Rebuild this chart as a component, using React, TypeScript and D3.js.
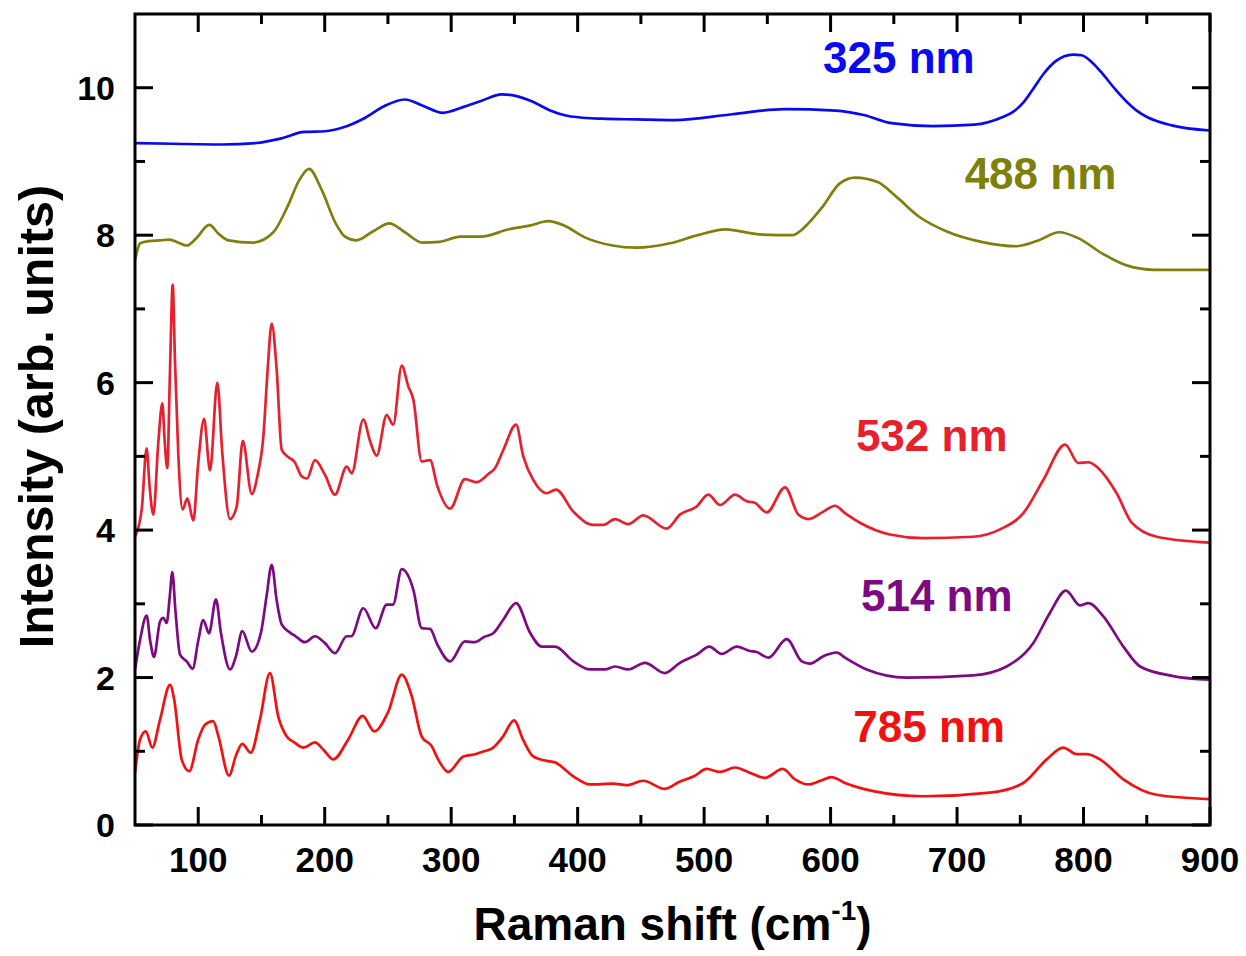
import React from "react";
import * as d3 from "d3";

// Raman spectra of the same sample under five excitation wavelengths,
// stacked with vertical offsets. Each entry: [Raman shift (cm^-1), intensity].
const spectrum325: [number, number][] = [
  [50, 9.25], [80, 9.24], [118.4, 9.23], [145.8, 9.25], [164.9, 9.31], [184, 9.4], [200.5, 9.41],
  [214.2, 9.46], [230.6, 9.58], [247, 9.75], [263.4, 9.84], [277.1, 9.76], [293.5, 9.66],
  [309.9, 9.74], [323.6, 9.82], [340, 9.91], [351, 9.89], [364.6, 9.81], [378.3, 9.69],
  [394.7, 9.61], [419.4, 9.58], [446.7, 9.57], [476.8, 9.56], [522.2, 9.64], [563.3, 9.71],
  [604.3, 9.69], [626.2, 9.63], [648.1, 9.52], [681, 9.48], [713.8, 9.5], [735.7, 9.6],
  [744, 9.67], [752, 9.79], [760, 9.98], [768.5, 10.19], [778, 10.36], [791.7, 10.45],
  [798.6, 10.44], [807, 10.34], [815, 10.19], [825, 9.98], [834.1, 9.81], [842, 9.69],
  [850.6, 9.6], [869.7, 9.49], [900, 9.42],
];

const spectrum488: [number, number][] = [
  [50, 7.66], [54.1, 7.89], [61, 7.92], [70, 7.93], [77.4, 7.94], [84, 7.9], [91, 7.86],
  [98, 7.95], [108.8, 8.14], [116, 8.02], [123.9, 7.93], [143, 7.9], [159.4, 8.04],
  [170.4, 8.38], [180, 8.75], [187.6, 8.9], [197.7, 8.61], [208.7, 8.16], [216, 7.98],
  [225.1, 7.93], [238, 8.05], [251.1, 8.16], [263.4, 8.04], [277.1, 7.9], [290.8, 7.91],
  [307.2, 7.98], [323.6, 7.98], [345.5, 8.08], [361.9, 8.13], [376.9, 8.19], [389.3, 8.13],
  [405.7, 7.97], [427.6, 7.86], [446.7, 7.83], [473, 7.89], [494.9, 8.0], [516.8, 8.08],
  [544.1, 8.01], [570.1, 8.0], [577, 8.07], [582.4, 8.16], [593.4, 8.38], [607.1, 8.7],
  [619.4, 8.78], [637.2, 8.72], [650.8, 8.54], [670, 8.25], [691.9, 8.05], [719.2, 7.91],
  [746.6, 7.85], [763, 7.92], [780.8, 8.04], [795.8, 7.96], [815, 7.75], [834.1, 7.59],
  [856, 7.53], [900, 7.53],
];

const spectrum532: [number, number][] = [
  [50, 3.91], [55.3, 4.28], [59.2, 5.11], [61.5, 4.6], [64.5, 4.21], [68.4, 5.18], [71.6, 5.72],
  [73.5, 5.2], [75.5, 4.84], [77.7, 6.18], [79.8, 7.33], [81.6, 6.3], [84.3, 5.0], [87.7, 4.28],
  [91.4, 4.43], [96.1, 4.13], [100, 4.91], [104.6, 5.51], [109.3, 4.81], [115.1, 6.0],
  [119, 5.05], [125.1, 4.15], [130.4, 4.32], [135.2, 5.21], [142.3, 4.49], [147, 4.75],
  [151.5, 5.27], [154.9, 6.18], [158.1, 6.8], [162, 6.18], [166, 5.09], [171.2, 4.99],
  [176, 4.93], [181.8, 4.73], [186, 4.7], [192.3, 4.95], [200.2, 4.75], [208.1, 4.48],
  [217.4, 4.86], [221.3, 4.77], [230.5, 5.5], [236, 5.2], [241.1, 5.01], [249, 5.56],
  [254.2, 5.43], [260.9, 6.23], [266.1, 5.95], [270.1, 5.77], [276.7, 4.93], [283.3, 4.95],
  [289, 4.6], [299.1, 4.29], [310.9, 4.69], [320.2, 4.65], [329.4, 4.76], [334.6, 4.84],
  [341.3, 5.09], [351.3, 5.43], [357, 5.0], [364.9, 4.68], [375.5, 4.5], [382.9, 4.55],
  [396.6, 4.25], [412.4, 4.07], [420.3, 4.07], [429.5, 4.15], [440, 4.08], [451.9, 4.2],
  [470.4, 4.02], [480.9, 4.21], [494.1, 4.32], [503.3, 4.48], [512.6, 4.34], [524.4, 4.48],
  [533.7, 4.39], [540, 4.37], [549.5, 4.24], [564, 4.58], [574.5, 4.21], [582.4, 4.15],
  [594.3, 4.25], [603.5, 4.33], [611.4, 4.23], [623.2, 4.1], [647, 3.94], [673.3, 3.89],
  [712.8, 3.91], [734, 4.01], [752.4, 4.23], [768.2, 4.68], [785.4, 5.16], [795.9, 4.91],
  [803.8, 4.92], [811.7, 4.84], [826.2, 4.5], [838.1, 4.1], [857.8, 3.91], [900, 3.83],
];

const spectrum514: [number, number][] = [
  [50, 2.11], [54, 2.51], [59.2, 2.84], [62, 2.5], [65, 2.28], [69.8, 2.76], [72.4, 2.81],
  [75, 2.74], [77.5, 3.1], [79.5, 3.43], [82, 2.9], [85.6, 2.31], [90.9, 2.22], [95.6, 2.12],
  [100, 2.5], [104, 2.78], [108.5, 2.6], [114, 3.06], [118, 2.6], [125.1, 2.11], [130, 2.3],
  [134.8, 2.63], [142.3, 2.35], [149.6, 2.61], [154, 3.1], [158.1, 3.53], [162, 3.05],
  [166, 2.72], [172.6, 2.61], [177, 2.56], [184.4, 2.48], [192.3, 2.56], [200, 2.47],
  [208.1, 2.33], [217.4, 2.56], [221, 2.56], [230.5, 2.94], [240.3, 2.67], [249, 2.99],
  [254, 2.99], [260.9, 3.47], [270.1, 3.19], [276.7, 2.67], [283.3, 2.66], [289, 2.45],
  [299.1, 2.22], [310.9, 2.49], [318.8, 2.48], [326, 2.55], [333.3, 2.6], [341, 2.78],
  [351.3, 3.01], [362.3, 2.61], [371.6, 2.42], [382.1, 2.42], [396.6, 2.22], [409.8, 2.11],
  [421.6, 2.11], [429.5, 2.15], [440, 2.11], [453.2, 2.2], [469, 2.06], [480.9, 2.2],
  [494.1, 2.31], [504.1, 2.42], [513.9, 2.32], [525.8, 2.42], [536.3, 2.36], [541, 2.35],
  [550.8, 2.27], [565.3, 2.52], [577.2, 2.22], [583.7, 2.19], [594.3, 2.29], [604.8, 2.34],
  [611.4, 2.27], [628.5, 2.11], [660.1, 2.0], [712.8, 2.03], [739.2, 2.15], [760.3, 2.47],
  [773.5, 2.88], [786.1, 3.18], [797.2, 2.98], [803.8, 3.01], [815.7, 2.83], [831.5, 2.42],
  [844.7, 2.15], [871, 2.02], [900, 1.97],
];

const spectrum785: [number, number][] = [
  [50, 0.71], [54, 1.16], [58.5, 1.27], [63.7, 1.05], [69.8, 1.43], [77.7, 1.9], [81, 1.7],
  [86.9, 0.89], [92.9, 0.73], [100, 1.16], [105.3, 1.36], [111.9, 1.41], [116, 1.2],
  [124.3, 0.67], [130, 0.95], [134.8, 1.1], [141.5, 0.98], [148.8, 1.43], [156.7, 2.06],
  [163.3, 1.47], [170, 1.2], [176, 1.12], [183.1, 1.05], [192.3, 1.12], [199, 1.02],
  [206.8, 0.89], [218.6, 1.16], [230, 1.48], [239.2, 1.27], [250.3, 1.54], [260.9, 2.04],
  [268.8, 1.75], [276.7, 1.2], [284.6, 1.07], [290, 0.88], [297.7, 0.72], [309.6, 0.93],
  [318.8, 0.96], [326, 1.0], [333.3, 1.05], [341, 1.2], [349.7, 1.42], [357, 1.15],
  [364.9, 0.93], [375.5, 0.87], [382, 0.85], [396.6, 0.66], [409.8, 0.55], [428.2, 0.56],
  [438.8, 0.54], [451.9, 0.6], [469, 0.49], [480.9, 0.59], [492, 0.66], [502, 0.76],
  [512.6, 0.72], [524.4, 0.78], [536, 0.71], [548.1, 0.64], [562.1, 0.76], [571.9, 0.62],
  [582.4, 0.55], [592, 0.6], [600.8, 0.65], [611.4, 0.57], [633.8, 0.46], [673.3, 0.39],
  [726, 0.44], [752.4, 0.57], [770.9, 0.89], [784, 1.05], [794.6, 0.96], [802.5, 0.96],
  [813, 0.89], [831.5, 0.62], [857.8, 0.41], [900, 0.35],
];

const seriesNames = ["325 nm", "488 nm", "532 nm", "514 nm", "785 nm"];
const seriesColors = ["#0a0af0", "#7f7f0c", "#e8202e", "#7d0a82", "#f41010"];
const seriesData = [spectrum325, spectrum488, spectrum532, spectrum514, spectrum785];
// label anchor: [Raman shift, intensity] where each label's text starts
const labelAnchors: [number, number][] = [
  [594, 10.2], [706, 8.62], [620, 5.07], [624, 2.9], [618, 1.13],
];

const xMajorTicks = [100, 200, 300, 400, 500, 600, 700, 800, 900];
const xMinorTicks = [150, 250, 350, 450, 550, 650, 750, 850];
const yMajorTicks = [0, 2, 4, 6, 8, 10];
const yMinorTicks = [1, 3, 5, 7, 9];

const W = 1246;
const H = 956;
const left = 135;
const right = 1210;
const top = 14;
const bottom = 825;
const font = "'Liberation Sans', Arial, Helvetica, sans-serif";

export default function App() {
  const x = d3.scaleLinear().domain([50, 900]).range([left, right]);
  const y = d3.scaleLinear().domain([0, 11]).range([bottom, top]);
  const line = d3
    .line<[number, number]>()
    .x((d) => x(d[0]))
    .y((d) => y(d[1]))
    .curve(d3.curveMonotoneX);

  const majorLen = 18;
  const minorLen = 10;

  return (
    <svg
      width={W}
      height={H}
      style={{ position: "absolute", left: 0, top: 0, background: "#fff" }}
      fontFamily={font}
    >
      <defs>
        <clipPath id="plot">
          <rect x={left} y={top} width={right - left} height={bottom - top} />
        </clipPath>
      </defs>

      <g clipPath="url(#plot)">
        {seriesData.map((s, i) => (
          <path
            key={seriesNames[i]}
            d={line(s) ?? ""}
            fill="none"
            stroke={seriesColors[i]}
            strokeWidth={2.7}
            strokeLinejoin="round"
          />
        ))}
      </g>

      {/* frame */}
      <rect
        x={left}
        y={top}
        width={right - left}
        height={bottom - top}
        fill="none"
        stroke="#000"
        strokeWidth={3}
      />

      {/* x ticks, bottom and top, pointing inward */}
      {xMajorTicks.map((t) => (
        <g key={"xM" + t} stroke="#000" strokeWidth={3}>
          <line x1={x(t)} x2={x(t)} y1={bottom} y2={bottom - majorLen} />
          <line x1={x(t)} x2={x(t)} y1={top} y2={top + majorLen} />
        </g>
      ))}
      {xMinorTicks.map((t) => (
        <g key={"xm" + t} stroke="#000" strokeWidth={3}>
          <line x1={x(t)} x2={x(t)} y1={bottom} y2={bottom - minorLen} />
          <line x1={x(t)} x2={x(t)} y1={top} y2={top + minorLen} />
        </g>
      ))}
      {/* y ticks, left and right */}
      {yMajorTicks.map((t) => (
        <g key={"yM" + t} stroke="#000" strokeWidth={3}>
          <line x1={left} x2={left + majorLen} y1={y(t)} y2={y(t)} />
          <line x1={right} x2={right - majorLen} y1={y(t)} y2={y(t)} />
        </g>
      ))}
      {yMinorTicks.map((t) => (
        <g key={"ym" + t} stroke="#000" strokeWidth={3}>
          <line x1={left} x2={left + minorLen} y1={y(t)} y2={y(t)} />
          <line x1={right} x2={right - minorLen} y1={y(t)} y2={y(t)} />
        </g>
      ))}

      {/* tick labels */}
      {xMajorTicks.map((t) => (
        <text
          key={"xl" + t}
          x={x(t)}
          y={bottom + 47}
          textAnchor="middle"
          fontSize={35}
          fontWeight="bold"
          fill="#000"
        >
          {t}
        </text>
      ))}
      {yMajorTicks.map((t) => (
        <text
          key={"yl" + t}
          x={left - 20}
          y={y(t) + 12}
          textAnchor="end"
          fontSize={34}
          fontWeight="bold"
          fill="#000"
        >
          {t}
        </text>
      ))}

      {/* axis titles */}
      <text
        x={(left + right) / 2}
        y={940}
        textAnchor="middle"
        fontSize={46}
        fontWeight="bold"
        fill="#000"
      >
        Raman shift (cm
        <tspan fontSize={28} dy={-20}>
          -1
        </tspan>
        <tspan dy={20}>)</tspan>
      </text>
      <text
        transform={`translate(53, ${(top + bottom) / 2 - 3}) rotate(-90)`}
        textAnchor="middle"
        fontSize={48.5}
        fontWeight="bold"
        fill="#000"
      >
        Intensity (arb. units)
      </text>

      {/* series labels */}
      {seriesNames.map((n, i) => (
        <text
          key={"lab" + n}
          x={x(labelAnchors[i][0])}
          y={y(labelAnchors[i][1])}
          fontSize={44}
          fontWeight="bold"
          fill={seriesColors[i]}
        >
          {n}
        </text>
      ))}
    </svg>
  );
}
